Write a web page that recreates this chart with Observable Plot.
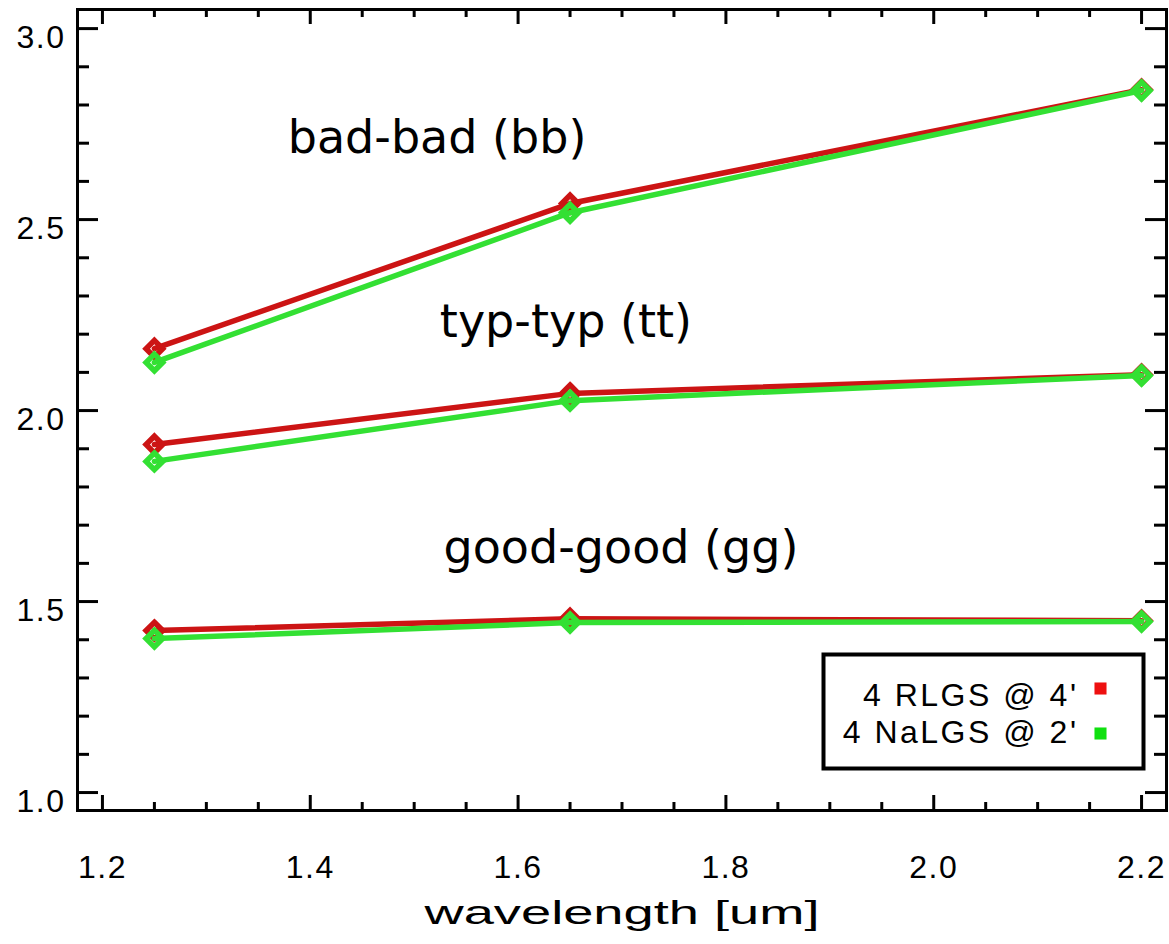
<!DOCTYPE html>
<html><head><meta charset="utf-8">
<script src="https://cdn.jsdelivr.net/npm/d3@7"></script>
<script src="https://cdn.jsdelivr.net/npm/@observablehq/plot@0.6"></script>
<style>body{margin:0;background:#fff}</style>
</head><body><div id="chart"></div>
<script>
const wavelengths = [1.25, 1.65, 2.2];
const seriesNames = ["4 RLGS @ 4'", "4 NaLGS @ 2'"];
const conditions = ["bb", "tt", "gg"];
const rlgs_bb = [2.162, 2.542, 2.840];
const nalgs_bb = [2.126, 2.518, 2.838];
const rlgs_tt = [1.911, 2.045, 2.094];
const nalgs_tt = [1.867, 2.026, 2.092];
const rlgs_gg = [1.424, 1.455, 1.450];
const nalgs_gg = [1.403, 1.445, 1.448];
const annotationText = ["bad-bad (bb)", "typ-typ (tt)", "good-good (gg)"];
const annotationX = [1.522, 1.646, 1.699];
const annotationY = [2.712, 2.230, 1.639];
const xMajorTicks = [1.2, 1.4, 1.6, 1.8, 2.0, 2.2];
const xMinorTicks = [1.25, 1.3, 1.35, 1.45, 1.5, 1.55, 1.65, 1.7, 1.75, 1.85, 1.9, 1.95, 2.05, 2.1, 2.15];
const yMajorTicks = [1.0, 1.5, 2.0, 2.5, 3.0];
const yMinorTicks = [1.1, 1.2, 1.3, 1.4, 1.6, 1.7, 1.8, 1.9, 2.1, 2.2, 2.3, 2.4, 2.6, 2.7, 2.8, 2.9];
const xLabel = "wavelength [um]";

const W = 1169, H = 944;
const mL = 77, mR = 3, mT = 9, mB = 134;
const fw = W - mL - mR, fh = H - mT - mB;
const lineColors = ["#cc1414", "#33e033"];
const legendColors = ["#ee1010", "#10e010"];

const seriesValues = [
  {bb: rlgs_bb, tt: rlgs_tt, gg: rlgs_gg},
  {bb: nalgs_bb, tt: nalgs_tt, gg: nalgs_gg}
];
const rows = [];
seriesNames.forEach((s, si) => conditions.forEach(c => wavelengths.forEach((w, i) => {
  rows.push({series: s, si, cond: c, key: s + c, x: w, y: seriesValues[si][c][i]});
})));
const annotations = annotationText.map((t, i) => ({t, x: annotationX[i], y: annotationY[i]}));

const tickFont = {fontFamily: "Liberation Sans, Arial, sans-serif", fontSize: 32};

const marks = [];
seriesNames.forEach((s, si) => {
  const d = rows.filter(r => r.si === si);
  marks.push(Plot.line(d, {x: "x", y: "y", z: "key", stroke: lineColors[si], strokeWidth: 5.5}));
  marks.push(Plot.dot(d, {x: "x", y: "y", symbol: "diamond2", r: 7.5, stroke: lineColors[si], strokeWidth: 5.5, fill: "none"}));
});
marks.push(Plot.text(annotations, {x: "x", y: "y", text: "t", fontFamily: "DejaVu Sans", fontSize: 46, fill: "#000", textAnchor: "middle", lineAnchor: "middle"}));
// frame & ticks
marks.push(Plot.frame({stroke: "#000", strokeWidth: 3}));
marks.push(Plot.tickY(yMajorTicks, {y: d => d, insetRight: fw - 21, strokeWidth: 3}));
marks.push(Plot.tickY(yMinorTicks, {y: d => d, insetRight: fw - 12, strokeWidth: 3}));
marks.push(Plot.tickY(yMajorTicks, {y: d => d, insetLeft: fw - 21, strokeWidth: 3}));
marks.push(Plot.tickY(yMinorTicks, {y: d => d, insetLeft: fw - 12, strokeWidth: 3}));
marks.push(Plot.tickX(xMajorTicks, {x: d => d, insetTop: fh - 15, strokeWidth: 3}));
marks.push(Plot.tickX(xMinorTicks, {x: d => d, insetTop: fh - 8, strokeWidth: 3}));
marks.push(Plot.tickX(xMajorTicks, {x: d => d, insetBottom: fh - 15, strokeWidth: 3}));
marks.push(Plot.tickX(xMinorTicks, {x: d => d, insetBottom: fh - 8, strokeWidth: 3}));
marks.push(Plot.axisY({ticks: yMajorTicks, label: null, tickSize: 0, tickPadding: 12, tickFormat: d3.format(".1f"), dy: 9, ...tickFont, fill: "#000"}));
marks.push(Plot.axisX({ticks: xMajorTicks, label: null, tickSize: 0, tickPadding: 57, lineAnchor: "middle", tickFormat: d3.format(".1f"), ...tickFont, fill: "#000"}));
marks.push(Plot.text([xLabel], {text: d => d, frameAnchor: "bottom", dy: 103, lineAnchor: "middle", fontFamily: "Liberation Sans, Arial, sans-serif", fontSize: 34, fill: "#000", className: "xlabel"}));
// legend
marks.push(Plot.frame({stroke: "#000", strokeWidth: 4, fill: "#fff", insetLeft: 823 - mL, insetRight: (W - mR) - 1143, insetTop: 654 - mT, insetBottom: (H - mB) - 768}));
const legendDy = [-115, -78];
const markerDy = [-122, -77];
seriesNames.forEach((s, si) => {
  marks.push(Plot.text([s], {text: d => d, frameAnchor: "bottom-right", dx: -88, dy: legendDy[si], textAnchor: "end", lineAnchor: "middle", ...tickFont, fill: "#000", className: "legendtext"}));
  marks.push(Plot.dot([s], {frameAnchor: "bottom-right", dx: -66, dy: markerDy[si], symbol: "square", r: 6.8, fill: legendColors[si], stroke: "none"}));
});

const chart = Plot.plot({
  width: W, height: H,
  marginLeft: mL, marginRight: mR, marginTop: mT, marginBottom: mB,
  x: {domain: [1.176, 2.224], axis: null},
  y: {domain: [0.953, 3.05], axis: null},
  style: {background: "#fff", color: "#000"},
  marks
});
// wider, Hershey-like spacing for axis and legend texts
d3.select(chart).selectAll('g[aria-label="y-axis tick label"] text, g[aria-label="x-axis tick label"] text').attr("letter-spacing", "1.5px");
d3.select(chart).selectAll('.legendtext text').attr("letter-spacing", "2.5px");
d3.select(chart).selectAll('.xlabel text').attr("textLength", 395).attr("lengthAdjust", "spacingAndGlyphs");
document.getElementById("chart").appendChild(chart);
</script>
</body></html>
